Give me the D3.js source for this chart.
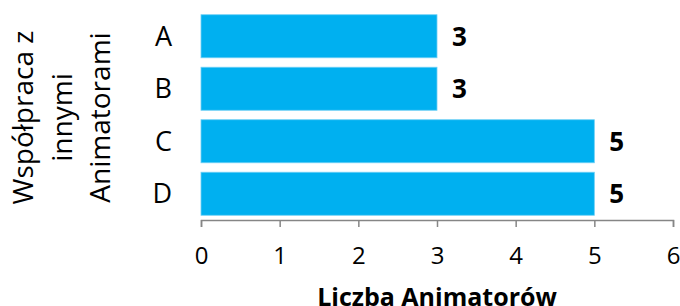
<!DOCTYPE html>
<html>
<head>
<meta charset="utf-8">
<script src="https://cdn.jsdelivr.net/npm/d3@7"></script>
<style>
  body { margin: 0; background: #fff; }
  svg { display: block; font-family: "Open Sans", sans-serif; }
</style>
</head>
<body>
<script>
// chart data
var categories = ["A", "B", "C", "D"];
var values = [3, 3, 5, 5];
var xTicks = [0, 1, 2, 3, 4, 5, 6];
var yTitleLines = ["Współpraca z", "innymi", "Animatorami"];
var xTitle = "Liczba Animatorów";

var margin = {top: 10, right: 7, bottom: 86, left: 201},
    width = 680 - margin.left - margin.right,
    height = 306 - margin.top - margin.bottom;

var svg = d3.select("body").append("svg")
    .attr("width", 680)
    .attr("height", 306);

var g = svg.append("g")
    .attr("transform", "translate(" + margin.left + "," + margin.top + ")");

var x = d3.scaleLinear().domain([0, 6]).range([0, width]);
var y = d3.scaleBand().domain(categories).range([0, height]).paddingInner(0.18).paddingOuter(0.09);

// bars
g.selectAll(".bar")
    .data(values)
  .enter().append("rect")
    .attr("class", "bar")
    .attr("x", x(0))
    .attr("y", function(d, i) { return y(categories[i]); })
    .attr("width", function(d) { return x(d) - x(0); })
    .attr("height", y.bandwidth())
    .attr("fill", "#00b0f0")
    .attr("stroke", "#6fd0f5")
    .attr("stroke-width", 0.8);

// value labels
g.selectAll(".val")
    .data(values)
  .enter().append("text")
    .attr("class", "val")
    .attr("x", function(d) { return x(d) + 15; })
    .attr("y", function(d, i) { return y(categories[i]) + y.bandwidth() / 2; })
    .attr("dy", "0.36em")
    .attr("font-size", 26)
    .attr("font-weight", "bold")
    .text(function(d) { return d; });

// category labels
g.selectAll(".cat")
    .data(categories)
  .enter().append("text")
    .attr("class", "cat")
    .attr("x", -29)
    .attr("y", function(d) { return y(d) + y.bandwidth() / 2; })
    .attr("dy", "0.36em")
    .attr("text-anchor", "end")
    .attr("font-size", 27)
    .text(function(d) { return d; });

// x axis
var xAxis = g.append("g")
    .attr("transform", "translate(0," + height + ")")
    .call(d3.axisBottom(x).tickValues(xTicks).tickFormat(d3.format("d"))
      .tickSize(7).tickSizeOuter(7));
xAxis.selectAll("path, line").attr("stroke", "#868686").attr("stroke-width", 1.5);
xAxis.selectAll("text")
    .attr("y", 44)
    .attr("dy", 0)
    .attr("font-size", 24)
    .attr("font-family", "'Open Sans', sans-serif")
    .attr("fill", "#000");

// x title
svg.append("text")
    .attr("x", margin.left + width / 2)
    .attr("y", 306)
    .attr("text-anchor", "middle")
    .attr("font-size", 25)
    .attr("font-weight", "bold")
    .text(xTitle);

// y title
var yt = svg.append("text")
    .attr("transform", "translate(33,117.5) rotate(-90)")
    .attr("text-anchor", "middle")
    .attr("font-size", 28);
yt.selectAll("tspan")
    .data(yTitleLines)
  .enter().append("tspan")
    .attr("x", 0)
    .attr("y", function(d, i) { return i * 38.5; })
    .text(function(d) { return d; });
</script>
</body>
</html>
